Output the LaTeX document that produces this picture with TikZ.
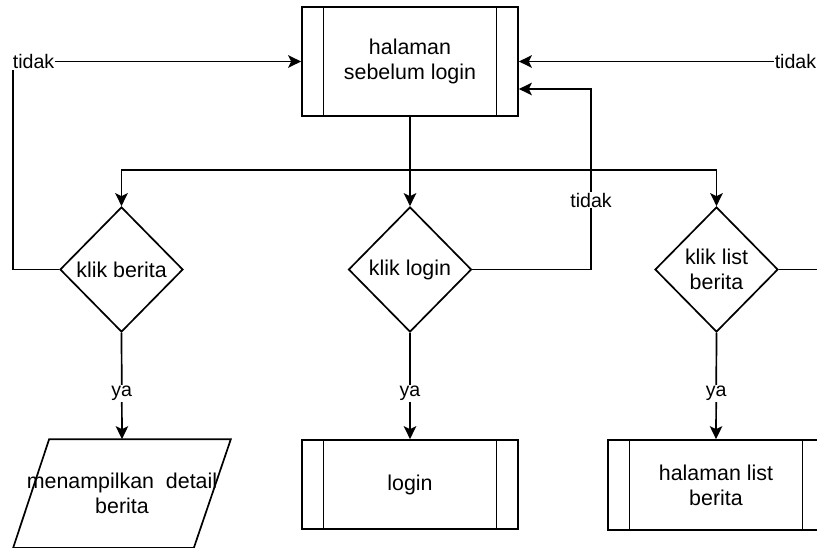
\documentclass[tikz,border=0pt]{standalone}
\usepackage{fontspec}
\setmainfont{Liberation Sans}
\usetikzlibrary{shapes.geometric,arrows.meta}
\newcommand\nfont{\fontsize{21.4}{25}\selectfont}
\newcommand\lfont{\fontsize{19.6}{23}\selectfont}
\begin{document}
\begin{tikzpicture}[x=1pt,y=-1pt, line width=1.7pt,
  arr/.style={-{Stealth[length=13pt,width=12.5pt,inset=3pt]}},
  proc/.style={draw, minimum width=216pt, inner sep=0pt, align=center, font=\nfont,
    path picture={\draw[line width=1.7pt]
      ([xshift=21.5pt]path picture bounding box.north west) -- ([xshift=21.5pt]path picture bounding box.south west)
      ([xshift=-21.5pt]path picture bounding box.north east) -- ([xshift=-21.5pt]path picture bounding box.south east);}},
  dec/.style={draw, shape=diamond, minimum width=123pt, minimum height=125pt, inner sep=0pt, align=center, font=\nfont},
  iobox/.style={minimum width=216pt, minimum height=107pt, inner sep=0pt, align=center, font=\nfont},
  lbl/.style={fill=white, inner sep=1pt, font=\lfont}
]
\useasboundingbox (0,0) rectangle (817,548);
\clip (0,0) rectangle (817,548);

\node[proc, minimum height=109pt] (top) at (410,61.5) {halaman\\sebelum login};

\node[dec] (d1) at (121.5,269.5) {klik berita};
\node[dec] (d2) at (410,269.5) {klik login};
\node[dec] (d3) at (716.5,269.5) {klik list\\berita};

\node[iobox] (para) at (122,493.5) {menampilkan\ \ detail\\berita};
\draw ([xshift=36pt]para.north west) -- (para.north east) -- ([xshift=-37pt]para.south east) -- (para.south west) -- cycle;

\node[proc, minimum height=89pt] (login) at (410,484.5) {login};
\node[proc, minimum height=90pt] (list) at (716,485) {halaman list\\berita};

% from top box to the three decisions
\coordinate (j) at (410,170);
\draw[arr] (top.south) -- (d2.north);
\draw[arr] (top.south) -- (j) -| (d1.north);
\draw[arr] (top.south) -- (j) -| (d3.north);

% left loop back
\coordinate (cl) at (13,0);
\draw[arr] (d1.west) -- (d1.west -| cl) -- (cl |- top.west) -- (top.west);
\node[lbl, anchor=west] (tl) at (11,61.5) {tidak};

% right loop back
\coordinate (cr) at (840,0);
\draw[arr] (d3.east) -- (d3.east -| cr) -- (cr |- top.east) -- (top.east);
\node[lbl, anchor=east] (tr) at (818,61.5) {tidak};

% middle loop back
\coordinate (cm) at (591,89);
\draw[arr] (d2.east) -| (cm) -- (cm -| top.east);
\node[lbl] (tm) at (591,200) {tidak};

% yes branches
\draw[arr] (d1.south) -- (para.north) node[lbl, pos=0.57] {ya};
\draw[arr] (d2.south) -- (login.north) node[lbl, pos=0.57] {ya};
\draw[arr] (d3.south) -- (list.north) node[lbl, pos=0.57] {ya};
\end{tikzpicture}
\end{document}
